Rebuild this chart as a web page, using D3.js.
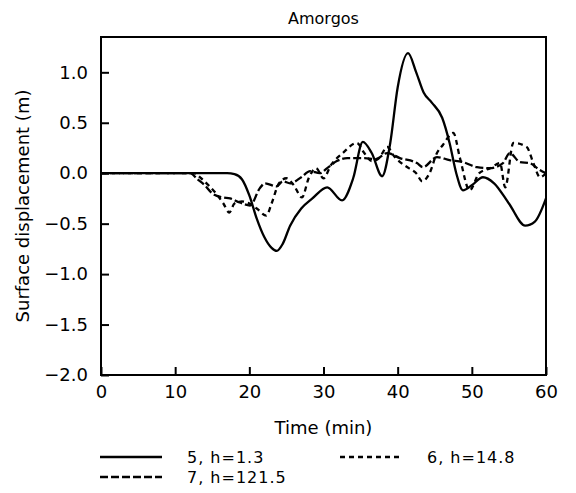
<!DOCTYPE html>
<html>
<head>
<meta charset="utf-8">
<script src="https://cdn.jsdelivr.net/npm/d3@7"></script>
<style>
  body { margin: 0; background: #fff; }
  text { font-family: "DejaVu Sans", "Liberation Sans", sans-serif; fill: #000; }
</style>
</head>
<body>
<svg id="chart"></svg>
<script>
var xTicks = [0, 10, 20, 30, 40, 50, 60];
var yTicks = [-2.0, -1.5, -1.0, -0.5, 0.0, 0.5, 1.0];

// gauge 5, h=1.3 (solid)
var t5 = [0, 17, 18, 19, 20, 21, 22, 23, 23.7, 24.5, 25.5, 27, 28.5, 30.5, 32.5, 34, 35.3, 36.5, 37.9, 39, 40, 41.4, 42.5, 43.5, 44.6, 46, 47, 47.9, 48.8, 50, 51.5, 53, 55, 57.2, 58.5, 60];
var v5 = [0, 0, -0.01, -0.06, -0.22, -0.45, -0.63, -0.74, -0.77, -0.7, -0.52, -0.35, -0.25, -0.14, -0.27, -0.05, 0.31, 0.2, -0.03, 0.3, 0.85, 1.19, 1.0, 0.8, 0.70, 0.55, 0.3, 0.0, -0.17, -0.12, -0.04, -0.1, -0.3, -0.52, -0.48, -0.25];

// gauge 6, h=14.8 (short dash)
var t6 = [0, 12.5, 13.5, 14.5, 15.5, 16.5, 17.3, 18, 19, 20, 21, 22.3, 23, 24, 25, 26, 27.1, 28, 29, 30, 31, 32.6, 34.5, 35.5, 36.5, 37.5, 38.6, 39.5, 40.5, 41.5, 42.5, 43.3, 44.3, 45.3, 46.1, 47.5, 48.4, 49.7, 51, 52.5, 53.8, 54.5, 55.6, 57.4, 58.3, 59.2, 60];
var v6 = [0, 0, -0.05, -0.12, -0.2, -0.3, -0.39, -0.3, -0.28, -0.3, -0.35, -0.42, -0.3, -0.1, -0.05, -0.12, -0.24, -0.05, 0.05, -0.05, 0.08, 0.2, 0.3, 0.2, 0.12, 0.15, 0.26, 0.17, 0.1, 0.05, 0.0, -0.08, 0.0, 0.2, 0.28, 0.4, 0.15, -0.17, 0.0, 0.05, 0.1, -0.14, 0.3, 0.26, 0.1, -0.04, 0.0];

// gauge 7, h=121.5 (long dash)
var t7 = [0, 12, 13, 14, 15, 16.4, 17.4, 18.7, 20.1, 21.4, 22.1, 23.7, 24.5, 25.5, 27, 28.2, 29.5, 30.5, 31.8, 33.2, 34.5, 35.5, 37, 38.6, 40.3, 42.6, 43.4, 45.3, 47, 48.8, 50.7, 52.4, 54.2, 55.1, 56.5, 57.8, 59, 60];
var v7 = [0, 0, -0.06, -0.12, -0.2, -0.24, -0.25, -0.29, -0.32, -0.15, -0.1, -0.13, -0.08, -0.1, -0.04, 0.02, 0.0, 0.05, 0.12, 0.15, 0.15, 0.15, 0.14, 0.2, 0.15, 0.1, 0.06, 0.16, 0.13, 0.11, 0.06, 0.05, 0.1, 0.2, 0.11, 0.1, 0.04, 0.0];

var seriesNames = ["5,  h=1.3", "6,  h=14.8", "7,  h=121.5"];
var dashes = [null, "5,4", "8,3"];

var totalWidth = 576, totalHeight = 493;
var margin = { top: 37, right: 30, bottom: 118, left: 101 };
var width = totalWidth - margin.left - margin.right;
var height = totalHeight - margin.top - margin.bottom;

var svg = d3.select("#chart")
    .attr("width", totalWidth)
    .attr("height", totalHeight);

var x = d3.scaleLinear().domain([0, 60]).range([0, width]);
var y = d3.scaleLinear().domain([-2, 1.35]).range([height, 0]);

var g = svg.append("g")
    .attr("transform", "translate(" + margin.left + "," + margin.top + ")");

var series = [
    t5.map(function (t, i) { return [t, v5[i]]; }),
    t6.map(function (t, i) { return [t, v6[i]]; }),
    t7.map(function (t, i) { return [t, v7[i]]; })
];

var line = d3.line()
    .x(function (d) { return x(d[0]); })
    .y(function (d) { return y(d[1]); })
    .curve(d3.curveMonotoneX);

g.selectAll(".series")
    .data(series)
    .enter()
    .append("path")
    .attr("class", "series")
    .attr("d", line)
    .attr("fill", "none")
    .attr("stroke", "#000")
    .attr("stroke-width", 2.3)
    .attr("stroke-dasharray", function (d, i) { return dashes[i]; });

// axes with inward ticks
var xAxis = g.append("g")
    .attr("transform", "translate(0," + height + ")")
    .call(d3.axisBottom(x).tickValues(xTicks).tickFormat(d3.format("d"))
        .tickSizeInner(-8).tickSizeOuter(0).tickPadding(10));

var yAxis = g.append("g")
    .call(d3.axisLeft(y).tickValues(yTicks).tickFormat(d3.format(".1f"))
        .tickSizeInner(-8).tickSizeOuter(0).tickPadding(13));

[xAxis, yAxis].forEach(function (a) {
    a.select(".domain").remove();
    a.selectAll("line").attr("stroke", "#000").attr("stroke-width", 2);
    a.selectAll("text").style("font-size", "18px").attr("fill", "#000");
});

g.append("rect")
    .attr("width", width)
    .attr("height", height)
    .attr("fill", "none")
    .attr("stroke", "#000")
    .attr("stroke-width", 2);

svg.append("text")
    .attr("x", margin.left + width / 2)
    .attr("y", 24)
    .attr("text-anchor", "middle")
    .style("font-size", "16px")
    .text("Amorgos");

svg.append("text")
    .attr("x", margin.left + width / 2)
    .attr("y", 434)
    .attr("text-anchor", "middle")
    .style("font-size", "18px")
    .text("Time (min)");

svg.append("text")
    .attr("transform", "translate(29," + (margin.top + height / 2) + ") rotate(-90)")
    .attr("text-anchor", "middle")
    .style("font-size", "18px")
    .text("Surface displacement (m)");

// legend
var legendPos = [[100, 457], [340, 457], [100, 477]];
var legend = svg.selectAll(".legend")
    .data(seriesNames)
    .enter()
    .append("g")
    .attr("class", "legend")
    .attr("transform", function (d, i) { return "translate(" + legendPos[i][0] + "," + legendPos[i][1] + ")"; });

legend.append("line")
    .attr("x1", 0).attr("x2", 62)
    .attr("stroke", "#000")
    .attr("stroke-width", 2.3)
    .attr("stroke-dasharray", function (d, i) { return dashes[i]; });

legend.append("text")
    .attr("x", 87)
    .attr("y", 6)
    .style("font-size", "16px")
    .style("letter-spacing", "1px")
    .text(function (d) { return d; });
</script>
</body>
</html>
